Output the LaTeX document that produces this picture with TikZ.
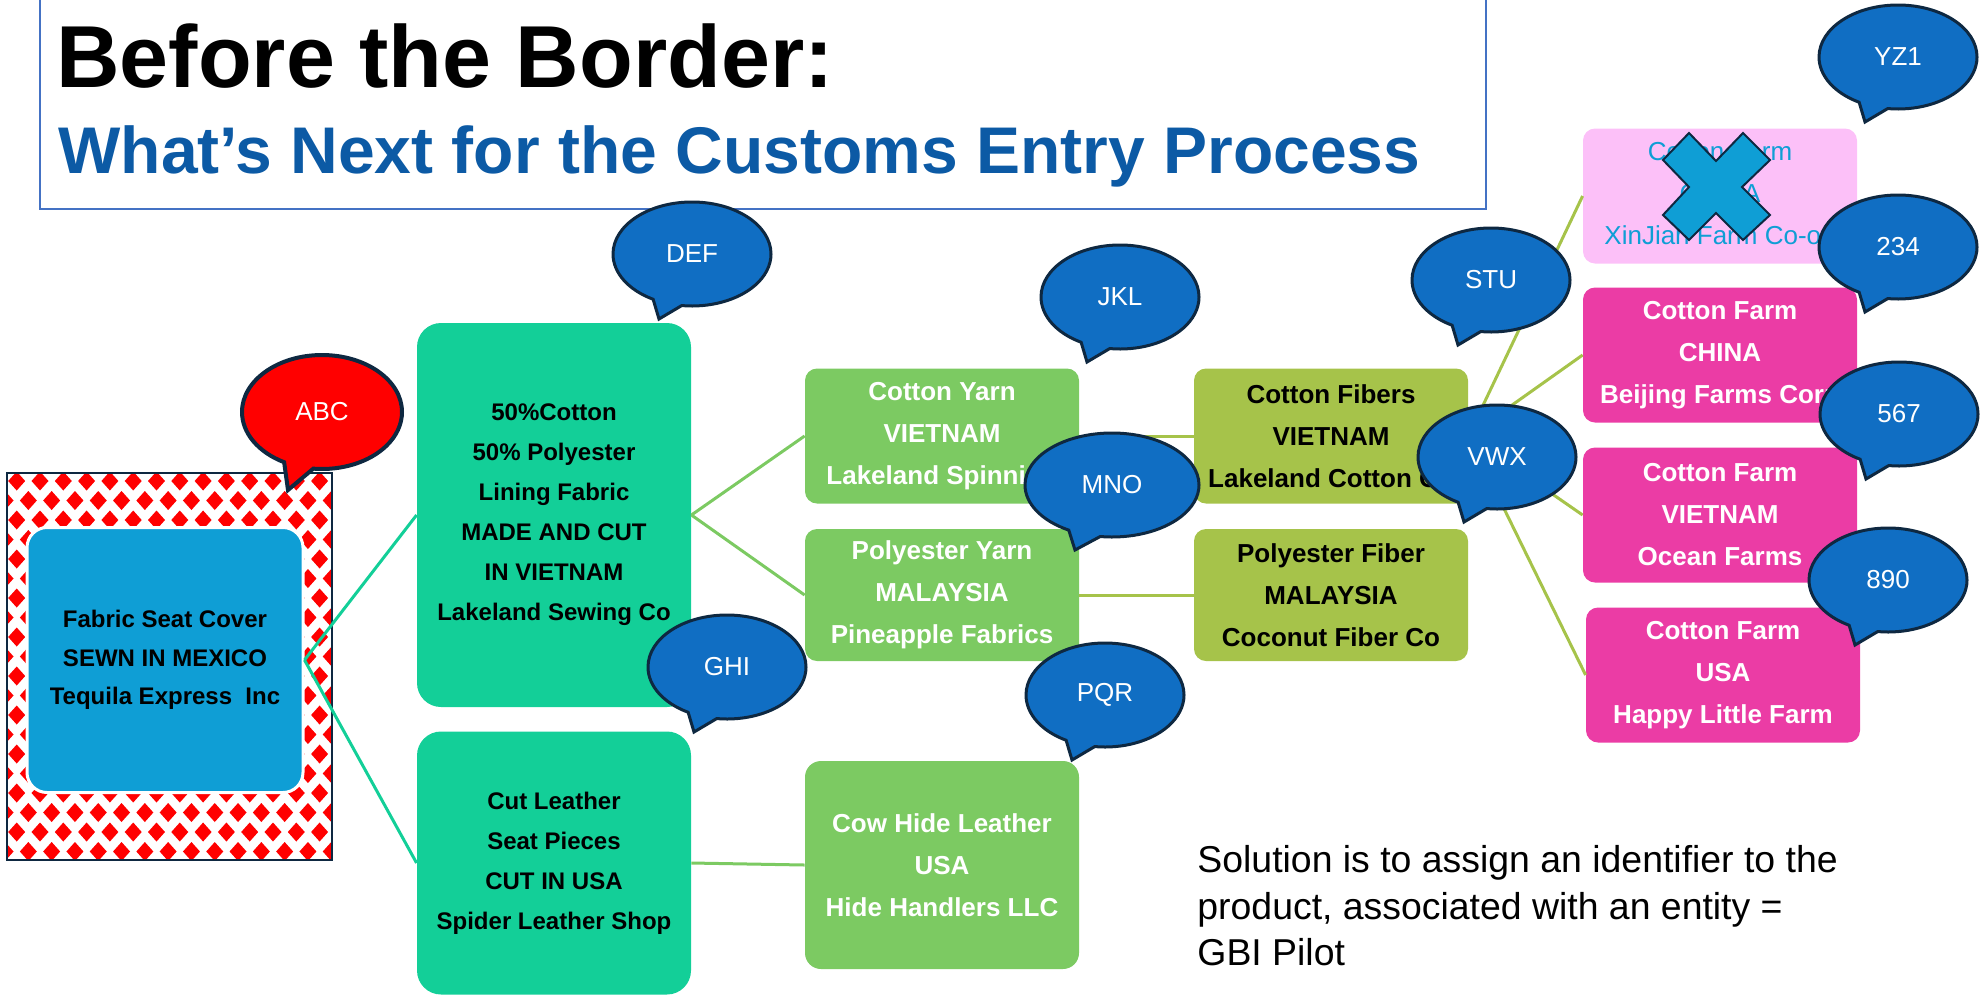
\documentclass[tikz,border=0pt]{standalone}
\usepackage{xcolor}
\usepackage{fontspec}
\setmainfont{Liberation Sans}
\usetikzlibrary{shapes.callouts}

\definecolor{tagblue}{RGB}{16,110,195}
\definecolor{tagline}{RGB}{14,40,65}
\definecolor{seatblue}{RGB}{15,158,213}
\definecolor{partgreen}{RGB}{19,207,152}
\definecolor{yarngreen}{RGB}{124,202,98}
\definecolor{fibergreen}{RGB}{166,195,74}
\definecolor{farmpink}{RGB}{235,60,165}
\definecolor{farmfade}{RGB}{252,192,248}
\definecolor{titleblue}{RGB}{12,90,165}
\definecolor{framebl}{RGB}{68,114,196}
\definecolor{stitchred}{RGB}{255,0,0}

\begin{document}
\begin{tikzpicture}[x=0.5pt,y=-0.5pt,
  card/.style={rounded corners=6pt,inner sep=0pt,align=center,minimum width=137pt,minimum height=67.5pt,font=\bfseries\fontsize{13}{21}\selectfont},
  part/.style={card,fill=partgreen,rounded corners=12pt,font=\bfseries\fontsize{12}{20}\selectfont},
  yarn/.style={card,fill=yarngreen,text=white},
  fiber/.style={card,fill=fibergreen},
  farm/.style={card,fill=farmpink,text=white},
  tag/.style={ellipse callout,draw=tagline,line width=1.5pt,fill=tagblue,text=white,inner sep=0pt,minimum width=79pt,minimum height=52pt,callout pointer arc=22,font=\fontsize{13}{15}\selectfont},
  link/.style={line width=1.5pt}]
\useasboundingbox (0,0) rectangle (1984,997);
\draw [framebl,line width=0.75pt] (40,-5) rectangle (1486,209);
\node [anchor=base west,inner sep=0pt,font=\bfseries\fontsize{44}{50}\selectfont] (head) at (56,87) {Before the Border:};
\node [anchor=base west,inner sep=0pt,text=titleblue,font=\bfseries\fontsize{33}{38}\selectfont] (subhead) at (58,173) {What’s Next for the Customs Entry Process};
\begin{scope}
\clip (7,473) rectangle (332,860);
\foreach \r in {-1,...,20}
  \foreach \c in {-1,...,14}
    \fill [stitchred] ({40+23.3*\c-11.65*mod(\r,2)},{481+19.5*\r}) +(-8.5,0) -- +(0,-9.5) -- +(8.5,0) -- +(0,9.5) -- cycle;
\end{scope}
\draw [tagline,line width=1.25pt] (7,473) rectangle (332,860);
\node [card,fill=seatblue,draw=white,line width=1.5pt,rounded corners=10pt,minimum width=138pt,minimum height=132.5pt,font=\bfseries\fontsize{12}{19.25}\selectfont] (seat) at (165,660) {Fabric Seat Cover\\SEWN IN MEXICO\\Tequila Express\ \ Inc};
\node [part,minimum height=192pt] (lining) at (554,515) {50\%Cotton\\50\% Polyester\\Lining Fabric\\MADE AND CUT\\IN VIETNAM\\Lakeland Sewing Co};
\node [part,minimum height=131.5pt] (leather) at (554,863) {Cut Leather\\Seat Pieces\\CUT IN USA\\Spider Leather Shop};
\node [yarn] (cyarn) at (942,436) {Cotton Yarn\\VIETNAM\\Lakeland Spinning};
\node [yarn,minimum height=66pt] (pyarn) at (942,595) {Polyester Yarn\\MALAYSIA\\Pineapple Fabrics};
\node [yarn,minimum height=104pt,rounded corners=8pt] (hide) at (942,865) {Cow Hide Leather\\USA\\Hide Handlers LLC};
\node [fiber] (cfiber) at (1331,436) {Cotton Fibers\\VIETNAM\\Lakeland Cotton Co};
\node [fiber,minimum height=66pt] (pfiber) at (1331,595) {Polyester Fiber\\MALAYSIA\\Coconut Fiber Co};
\node [farm,fill=farmfade,text=seatblue,font=\fontsize{13}{21}\selectfont] (farmcn) at (1720,196) {Cotton Farm\\CHINA\\XinJian Farm Co-op};
\node [farm] (farmbj) at (1720,355) {Cotton Farm\\CHINA\\Beijing Farms Corp};
\node [farm] (farmvn) at (1720,515) {Cotton Farm\\VIETNAM\\Ocean Farms};
\node [farm] (farmus) at (1723,675) {Cotton Farm\\USA\\Happy Little Farm};
\draw [link,partgreen] (seat.east) -- (lining.west);
\draw [link,partgreen] (seat.east) -- (leather.west);
\draw [link,yarngreen] (lining.east) -- (cyarn.west);
\draw [link,yarngreen] (lining.east) -- (pyarn.west);
\draw [link,yarngreen] (leather.east) -- (hide.west);
\draw [link,fibergreen] (cyarn.east) -- (cfiber.west);
\draw [link,fibergreen] (pyarn.east) -- (pfiber.west);
\foreach \f in {farmcn,farmbj,farmvn,farmus}
  \draw [link,fibergreen] (cfiber.east) -- (\f.west);
\draw [fill=seatblue,draw=tagline,line width=1pt] (1689,133) -- (1716,161) -- (1743,133) -- (1770,160) -- (1742,187) -- (1770,215) -- (1743,240) -- (1716,213) -- (1689,240) -- (1663,215) -- (1689,187) -- (1663,160) -- cycle;
\node [anchor=north west,align=left,inner sep=0pt,font=\fontsize{18.7}{23.25}\selectfont] (note) at (1197,845) {Solution is to assign an identifier to the\\product, associated with an entity =\\GBI Pilot};
\node [tag,fill=stitchred,line width=2pt,minimum width=80pt,minimum height=57pt,callout absolute pointer={(288,490)}] (abc) at (322,412) {ABC};
\node [tag,minimum width=87pt,callout absolute pointer={(1075,550)}] (mno) at (1112,485) {MNO};
\foreach \x/\y/\t in {692/254/DEF,727/667/GHI,1120/297/JKL,1105/695/PQR,1491/280/STU,1497/457/VWX,1898/57/YZ1,1898/247/234,1899/414/567,1888/580/890}
  \node [tag,callout absolute pointer={(\x-33,\y+65)}] (tag\t) at (\x,\y) {\t};
\end{tikzpicture}
\end{document}
